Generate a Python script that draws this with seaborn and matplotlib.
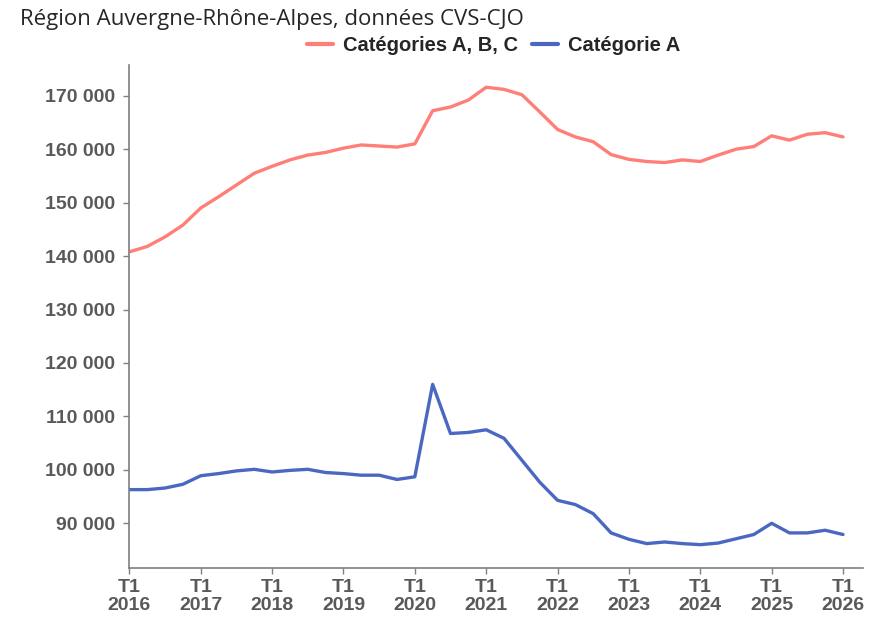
import numpy as np
import pandas as pd
import matplotlib
matplotlib.use("Agg")
import matplotlib.pyplot as plt
import seaborn as sns

# quarterly series, T1 2016 -> T1 2026
years = list(range(2016, 2026))
quarters = [f"T{q} {y}" for y in years for q in (1, 2, 3, 4)] + ["T1 2026"]

cat_abc = [140800, 141800, 143600, 145800, 149000, 151100, 153300, 155500,
           156800, 158000, 158900, 159400, 160200, 160800, 160600, 160400,
           161000, 167200, 167900, 169200, 171600, 171200, 170200, 167000,
           163700, 162300, 161400, 159000, 158100, 157700, 157500, 158000,
           157700, 158900, 160000, 160500, 162500, 161700, 162800, 163100,
           162300]
cat_a = [96300, 96300, 96600, 97300, 98900, 99300, 99800, 100100,
         99600, 99900, 100100, 99500, 99300, 99000, 99000, 98200,
         98700, 116000, 106800, 107000, 107500, 105900, 101800, 97700,
         94300, 93500, 91800, 88200, 87000, 86200, 86500, 86200,
         86000, 86300, 87100, 87900, 90000, 88200, 88200, 88700,
         87900]

series_names = ["Catégories A, B, C", "Catégorie A"]
series_colors = ["#FF7F78", "#4A68C2"]
tick_years = list(range(2016, 2027))

df = pd.DataFrame({
    "idx": list(range(len(quarters))) * 2,
    "value": cat_abc + cat_a,
    "serie": [series_names[0]] * len(quarters) + [series_names[1]] * len(quarters),
})

sns.set_style("white")
plt.rcParams["font.family"] = ["Liberation Sans", "DejaVu Sans"]

fig = plt.figure(figsize=(8.74, 6.23), dpi=100)
ax = fig.add_axes([0.148, 0.088, 0.839, 0.808])

sns.lineplot(data=df, x="idx", y="value", hue="serie",
             palette=dict(zip(series_names, series_colors)),
             linewidth=2.4, ax=ax, legend=False)

grey = "#595959"
ax.set_xlim(0, 41.1)
ax.set_ylim(81600, 175800)
ax.set_xticks([4 * i for i in range(len(tick_years))])
ax.set_xticklabels([f"T1\n{y}" for y in tick_years], linespacing=1.05)
ax.set_yticks(range(90000, 170001, 10000))
ax.yaxis.set_major_formatter(
    matplotlib.ticker.FuncFormatter(lambda v, p: f"{v:,.0f}".replace(",", " ")))
ax.set_xlabel("")
ax.set_ylabel("")

for lab in ax.get_xticklabels() + ax.get_yticklabels():
    lab.set_fontweight("bold")
    lab.set_color(grey)
    lab.set_fontsize(14)
ax.tick_params(axis="both", direction="out", length=4, width=1, color="#808080",
               left=True, bottom=True)
ax.tick_params(axis="y", pad=6)
ax.tick_params(axis="x", pad=4)

for side in ("top", "right"):
    ax.spines[side].set_visible(False)
for side in ("left", "bottom"):
    ax.spines[side].set_color("#7f7f7f")
    ax.spines[side].set_linewidth(1.2)

fig.text(0.023, 0.968, "Région Auvergne-Rhône-Alpes, données CVS-CJO",
         fontsize=16, color="#262626", va="center", ha="left",
         family=["Open Sans", "DejaVu Sans"])

handles = [plt.Line2D([], [], color=c, linewidth=3) for c in series_colors]
fig.legend(handles, series_names, loc="center", bbox_to_anchor=(0.565, 0.927),
           ncol=2, frameon=False, handlelength=1.3, handletextpad=0.5,
           columnspacing=0.7, prop={"weight": "bold", "size": 14.5})
for t in fig.legends[0].get_texts():
    t.set_color("#262626")

fig.savefig("out.png", dpi=100)
